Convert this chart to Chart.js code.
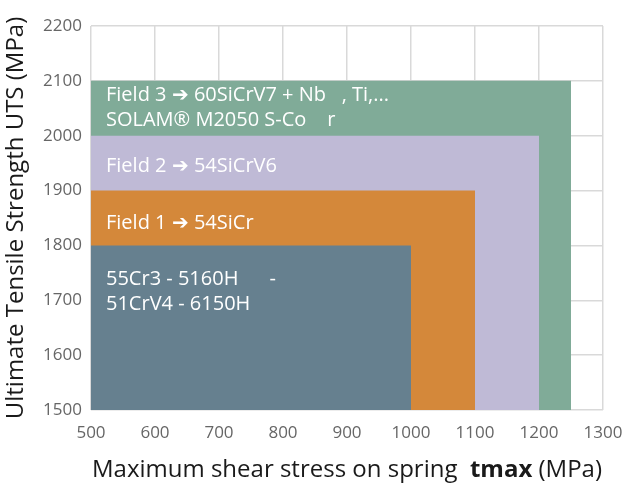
<!DOCTYPE html>
<html>
<head>
<meta charset="utf-8">
<script src="https://cdn.jsdelivr.net/npm/chart.js@4"></script>
<style>
  html, body { margin: 0; padding: 0; background: #fff; }
  #wrap { width: 622px; height: 495px; }
</style>
</head>
<body>
<div id="wrap"><canvas id="myChart" width="622" height="495"></canvas></div>
<script>
// tick labels
const xTicks = [500, 600, 700, 800, 900, 1000, 1100, 1200, 1300];
const yTicks = [1500, 1600, 1700, 1800, 1900, 2000, 2100, 2200];

// fields, smallest first
const fieldNames = ['Base', 'Field 1', 'Field 2', 'Field 3'];
const shearStart = 500;
const shearMax = [1000, 1100, 1200, 1250];
const utsMax = [1800, 1900, 2000, 2100];
const fieldText = [
    ['55Cr3 - 5160H      -', '51CrV4 - 6150H'],
    ['Field 1 \u2794 54SiCr'],
    ['Field 2 \u2794 54SiCrV6'],
    ['Field 3 \u2794 60SiCrV7 + Nb   , Ti,...', 'SOLAM\u00AE M2050 S-Co    r']
];
const textY = [1716, 1840, 1945, 2051];

const colors = ['#66808f', '#d4883a', '#bfbad6', '#80ab98'];
const tickFont = { family: '"Liberation Sans Narrow", "Open Sans"', size: 17 };

const fieldLabels = {
    id: 'fieldLabels',
    afterDatasetsDraw(chart) {
        const c = chart.ctx;
        const xs = chart.scales.x, ys = chart.scales.y;
        c.save();
        c.fillStyle = '#ffffff';
        c.font = '20px "Open Sans"';
        c.textBaseline = 'middle';
        c.textAlign = 'left';
        fieldText.forEach((lines, i) => {
            const cy = ys.getPixelForValue(textY[i]);
            const x0 = xs.getPixelForValue(shearStart) + 15;
            lines.forEach((t, j) => {
                const y = cy + (j - (lines.length - 1) / 2) * 25;
                c.fillText(t, x0, y);
            });
        });
        c.restore();
    },
    afterDraw(chart) {
        // x axis title with bold part
        const c = chart.ctx;
        const parts = [
            ['Maximum shear stress on spring  ', '24px "Open Sans"'],
            ['tmax', 'bold 24px "Open Sans"'],
            [' (MPa)', '24px "Open Sans"']
        ];
        c.save();
        c.fillStyle = '#1a1a1a';
        c.textBaseline = 'middle';
        let total = 0;
        parts.forEach(p => { c.font = p[1]; total += c.measureText(p[0]).width; });
        let x = (chart.chartArea.left + chart.chartArea.right) / 2 - total / 2;
        parts.forEach(p => {
            c.font = p[1];
            c.fillText(p[0], x, 470);
            x += c.measureText(p[0]).width;
        });
        c.restore();
    }
};

const ctx = document.getElementById('myChart');

new Chart(ctx, {
    type: 'scatter',
    data: {
        datasets: fieldNames.map((name, i) => ({
            label: name,
            data: [{ x: shearStart, y: utsMax[i] }, { x: shearMax[i], y: utsMax[i] }],
            showLine: true,
            fill: 'start',
            backgroundColor: colors[i],
            borderColor: colors[i],
            borderWidth: 0,
            pointRadius: 0
        }))
    },
    options: {
        responsive: false,
        animation: false,
        layout: { padding: { top: 26, right: 0, left: 0, bottom: 0 } },
        plugins: { legend: { display: false }, tooltip: { enabled: false } },
        scales: {
            x: {
                type: 'linear',
                min: 500,
                max: 1300,
                afterBuildTicks: axis => { axis.ticks = xTicks.map(v => ({ value: v })); },
                afterFit: axis => { axis.height = 85; axis.paddingRight = 19; axis.paddingLeft = 0; },
                grid: { color: '#d9d9d9', lineWidth: 1.5, drawTicks: false },
                border: { display: false },
                ticks: { color: '#666666', font: tickFont, padding: 13, maxRotation: 0, callback: v => String(v) }
            },
            y: {
                type: 'linear',
                min: 1500,
                max: 2200,
                afterBuildTicks: axis => { axis.ticks = yTicks.map(v => ({ value: v })); },
                afterFit: axis => { axis.width = 91; axis.paddingTop = 0; axis.paddingBottom = 0; },
                grid: { color: '#d9d9d9', lineWidth: 1.5, drawTicks: false },
                border: { display: false },
                ticks: { color: '#666666', font: tickFont, padding: 9, callback: v => String(v) },
                title: {
                    display: true,
                    text: 'Ultimate Tensile Strength UTS (MPa)',
                    color: '#1a1a1a',
                    font: { family: 'Open Sans', size: 24 },
                    padding: { top: 2, bottom: 0 }
                }
            }
        }
    },
    plugins: [fieldLabels]
});
</script>
</body>
</html>
